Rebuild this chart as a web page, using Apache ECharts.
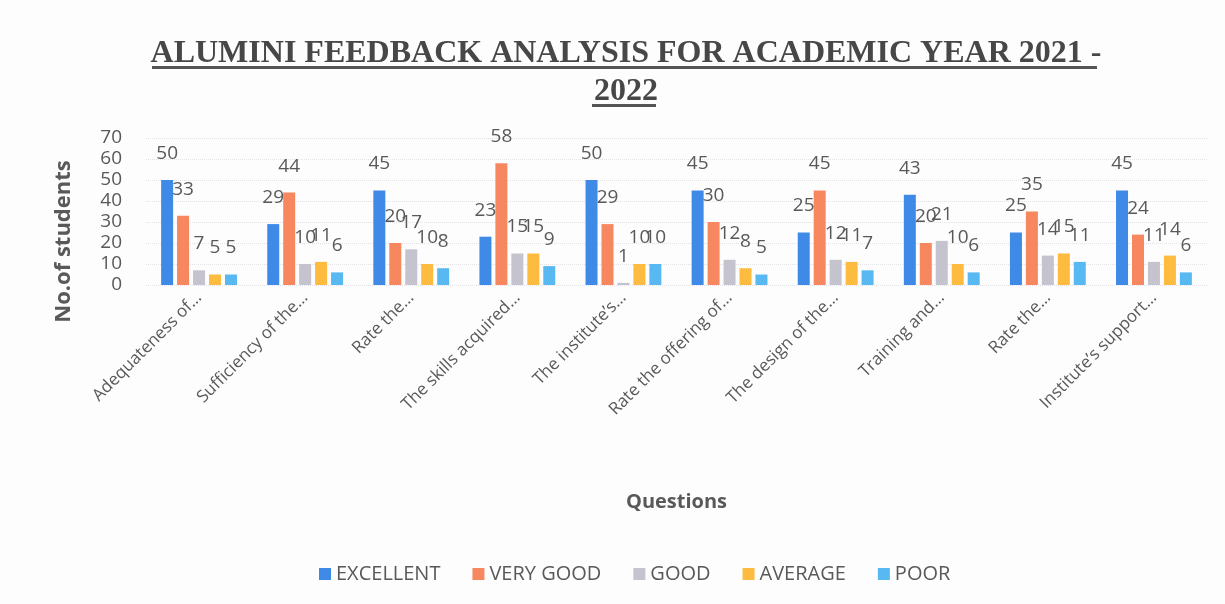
<!DOCTYPE html>
<html>
<head>
<meta charset="utf-8">
<script src="https://cdn.jsdelivr.net/npm/echarts@6/dist/echarts.min.js"></script>
<style>
  html, body { margin: 0; padding: 0; background: #fdfdfd; }
  #main { width: 1225px; height: 604px; }
</style>
</head>
<body>
<div id="main"></div>
<script>
const questions = ['Adequateness of…', 'Sufficiency of the…', 'Rate the…', 'The skills acquired…', 'The institute’s…',
  'Rate the offering of…', 'The design of the…', 'Training and…', 'Rate the…', 'Institute’s support…']
const excellent = [50, 29, 45, 23, 50, 45, 25, 43, 25, 45]
const veryGood = [33, 44, 20, 58, 29, 30, 45, 20, 35, 24]
const good = [7, 10, 17, 15, 1, 12, 12, 21, 14, 11]
const average = [5, 11, 10, 15, 10, 8, 11, 10, 15, 14]
const poor = [5, 6, 8, 9, 10, 5, 7, 6, 11, 6]
const yTicks = [0, 10, 20, 30, 40, 50, 60, 70]

const seriesList = [
  { name: 'EXCELLENT', data: excellent, color: '#3f8ae6' },
  { name: 'VERY GOOD', data: veryGood, color: '#f7875f' },
  { name: 'GOOD', data: good, color: '#c4c3ce' },
  { name: 'AVERAGE', data: average, color: '#fdbb3f' },
  { name: 'POOR', data: poor, color: '#58b9f2' }
]

const chart = echarts.init(document.getElementById('main'))

const option = {
  backgroundColor: '#fdfdfd',
  title: {
    text: 'ALUMINI FEEDBACK ANALYSIS FOR ACADEMIC YEAR 2021 -\n2022',
    left: 621,
    textAlign: 'center',
    top: 30,
    textStyle: {
      fontFamily: 'Liberation Serif',
      fontWeight: 'bold',
      fontSize: 32,
      color: '#474747',
      lineHeight: 38
    }
  },
  // title underlines
  graphic: [
    { type: 'rect', shape: { x: 152, y: 66, width: 945, height: 3 }, style: { fill: '#555' } },
    { type: 'rect', shape: { x: 592, y: 104, width: 64, height: 3 }, style: { fill: '#555' } }
  ],
  legend: {
    top: 559,
    left: 314,
    itemWidth: 12,
    itemHeight: 12,
    itemGap: 32,
    icon: 'rect',
    textStyle: { fontFamily: 'Open Sans', fontSize: 20, color: '#595959' },
    data: seriesList.map(s => s.name)
  },
  grid: { left: 146, right: 18, top: 138, bottom: 319 },
  xAxis: {
    type: 'category',
    data: questions,
    name: 'Questions',
    nameLocation: 'middle',
    nameGap: 207,
    nameTextStyle: { fontFamily: 'Open Sans', fontWeight: 'bold', fontSize: 20, color: '#595959' },
    axisLine: { show: false },
    axisTick: { show: false },
    axisLabel: {
      rotate: 45,
      margin: 10,
      fontFamily: 'Open Sans',
      fontSize: 17,
      color: '#595959',
      interval: 0
    }
  },
  yAxis: {
    type: 'value',
    min: 0,
    max: 70,
    interval: 10,
    name: 'No.of students',
    nameLocation: 'middle',
    nameGap: 71,
    nameTextStyle: { fontFamily: 'Open Sans', fontWeight: 'bold', fontSize: 22, color: '#595959', padding: [0, 60, 0, 0] },
    axisLabel: {
      fontFamily: 'Open Sans',
      fontSize: 19,
      color: '#595959',
      margin: 24,
      formatter: v => (yTicks.includes(v) ? String(v) : '')
    },
    splitLine: { lineStyle: { color: '#e2e2e8', type: 'dotted', width: 1 } }
  },
  series: seriesList.map(s => ({
    name: s.name,
    type: 'bar',
    data: s.data,
    barWidth: 12,
    barGap: '33%',
    itemStyle: { color: s.color },
    label: {
      show: true,
      position: 'top',
      distance: 17,
      fontFamily: 'Open Sans',
      fontSize: 19,
      color: '#595959'
    }
  }))
}

chart.setOption(option)
</script>
</body>
</html>
